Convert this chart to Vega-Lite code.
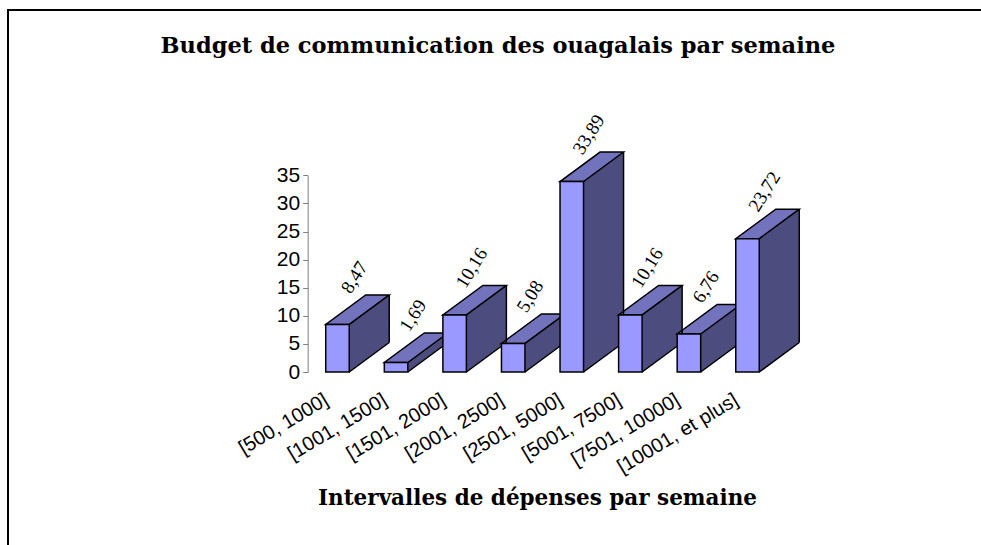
{
  "$schema": "https://vega.github.io/schema/vega-lite/v6.json",
  "autosize": {"type": "none"},
  "width": 980,
  "height": 542,
  "padding": {"left": 8, "top": 10, "right": -7, "bottom": -7},
  "background": "white",
  "title": {
    "text": "Budget de communication des ouagalais par semaine",
    "font": "DejaVu Serif",
    "fontSize": 22.5,
    "fontWeight": "bold",
    "color": "black",
    "anchor": "middle",
    "frame": "group",
    "baseline": "alphabetic",
    "offset": -43,
    "dy": 22
  },
  "config": {
    "view": {"stroke": "black", "strokeWidth": 2},
    "axis": {"grid": false, "labelFont": "Liberation Sans", "labelColor": "black"},
    "locale": {"number": {"decimal": ",", "thousands": ".", "grouping": [3], "currency": ["", " €"]}}
  },
  "data": {
    "values": [
      {"cat": "[500, 1000]", "value": 8.47},
      {"cat": "[1001, 1500]", "value": 1.69},
      {"cat": "[1501, 2000]", "value": 10.16},
      {"cat": "[2001, 2500]", "value": 5.08},
      {"cat": "[2501, 5000]", "value": 33.89},
      {"cat": "[5001, 7500]", "value": 10.16},
      {"cat": "[7501, 10000]", "value": 6.76},
      {"cat": "[10001, et plus]", "value": 23.72}
    ]
  },
  "encoding": {
    "x": {
      "field": "cat",
      "type": "nominal",
      "sort": null,
      "scale": {"range": [300.2, 768.8], "paddingInner": 0, "paddingOuter": 0},
      "axis": {
        "offset": -180,
        "domain": false,
        "ticks": false,
        "tickSize": 0,
        "labelAngle": -31,
        "labelAlign": "right",
        "labelBaseline": "middle",
        "labelPadding": 26,
        "labelOffset": -11,
        "labelFontSize": 20,
        "labelFont": "Liberation Sans",
        "title": "Intervalles de dépenses par semaine",
        "titleFont": "DejaVu Serif",
        "titleFontSize": 21.5,
        "titleFontWeight": "bold",
        "titleColor": "black",
        "titleX": 529,
        "titleY": 132,
        "titleAlign": "center",
        "titleBaseline": "alphabetic"
      }
    },
    "y": {
      "field": "value",
      "type": "quantitative",
      "scale": {"domain": [0, 35], "range": [362, 165.3], "nice": false, "zero": true},
      "axis": {
        "offset": -299.7,
        "title": null,
        "values": [0, 5, 10, 15, 20, 25, 30, 35],
        "domain": true,
        "domainColor": "#808080",
        "domainWidth": 1,
        "ticks": true,
        "tickColor": "#808080",
        "tickSize": 5,
        "labelPadding": 3,
        "labelFontSize": 21,
        "labelFont": "Liberation Sans"
      }
    }
  },
  "layer": [
    {
      "mark": {"type": "bar", "width": 40, "xOffset": 31.75, "fill": "#4C4C7E", "strokeWidth": 0}
    },
    {
      "mark": {"type": "point", "shape": "M11.75,0L51.75,-29.5L51.75,2L11.75,2Z", "size": 4, "filled": true, "fill": "#4C4C7E", "strokeWidth": 0, "opacity": 1}
    },
    {
      "mark": {"type": "point", "shape": "M11.75,0L51.75,-29.5L52.75,-29.5L52.75,1.5L11.75,1.5Z", "size": 4, "filled": true, "fill": "white", "strokeWidth": 0, "opacity": 1},
      "encoding": {"y": {"datum": 0}}
    },
    {
      "mark": {"type": "point", "shape": "M-11.75,0L11.75,0L51.75,-29.5L28.25,-29.5Z", "size": 4, "filled": true, "fill": "#7373BD", "stroke": "black", "strokeWidth": 1.5, "opacity": 1, "strokeJoin": "miter"}
    },
    {
      "mark": {"type": "rule", "xOffset": 51.75, "yOffset": -29.5, "y2Offset": -29.5, "stroke": "black", "strokeWidth": 1.5},
      "encoding": {"y2": {"datum": 0}}
    },
    {
      "mark": {"type": "point", "shape": "M11.75,0L51.75,-29.5", "size": 4, "filled": false, "stroke": "black", "strokeWidth": 1.5, "opacity": 1},
      "encoding": {"y": {"datum": 0}}
    },
    {
      "mark": {"type": "bar", "width": 23.5, "fill": "#9999FF", "stroke": "black", "strokeWidth": 1.5}
    },
    {
      "mark": {"type": "text", "font": "Liberation Serif", "fontSize": 19, "angle": 302, "align": "center", "baseline": "middle", "xOffset": 17, "yOffset": -47, "color": "black"},
      "encoding": {"text": {"field": "value", "type": "quantitative", "format": ".2f"}}
    }
  ]
}
